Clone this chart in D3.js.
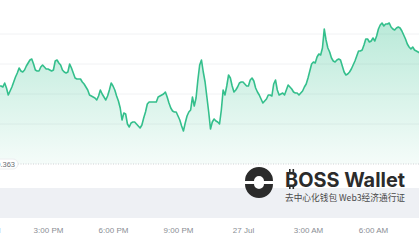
<!DOCTYPE html>
<html>
<head>
<meta charset="utf-8">
<script src="https://cdnjs.cloudflare.com/ajax/libs/d3/7.8.5/d3.min.js"></script>
<style>
    body { margin: 0; background: #ffffff; overflow: hidden; }
    svg { display: block; }
</style>
</head>
<body>
<script>
// PRICE SERIES, ONE VALUE EVERY 5 MINUTES FROM 26 JUL 12:45 PM
var startTime = new Date(2024, 6, 26, 12, 45);
var stepMinutes = 5;
var prices = [
    0.3708, 0.3708, 0.3707, 0.3711, 0.3706, 0.3699, 0.3703, 0.3707, 0.3712, 0.3717,
    0.3721, 0.3726, 0.3723, 0.3722, 0.3724, 0.3728, 0.3731, 0.3734, 0.3735, 0.3730,
    0.3724, 0.3723, 0.3723, 0.3727, 0.3729, 0.3727, 0.3725, 0.3725, 0.3724, 0.3723,
    0.3724, 0.3733, 0.3734, 0.3731, 0.3729, 0.3724, 0.3722, 0.3721, 0.3722, 0.3730,
    0.3726, 0.3721, 0.3716, 0.3715, 0.3715, 0.3715, 0.3712, 0.3710, 0.3707, 0.3704,
    0.3699, 0.3698, 0.3697, 0.3696, 0.3694, 0.3698, 0.3704, 0.3700, 0.3697, 0.3694,
    0.3698, 0.3704, 0.3711, 0.3708, 0.3704, 0.3698, 0.3693, 0.3686, 0.3674, 0.3681,
    0.3680, 0.3670, 0.3667, 0.3671, 0.3672, 0.3672, 0.3670, 0.3668, 0.3666, 0.3669,
    0.3676, 0.3682, 0.3690, 0.3692, 0.3692, 0.3692, 0.3692, 0.3692, 0.3697, 0.3698,
    0.3699, 0.3700, 0.3702, 0.3697, 0.3691, 0.3686, 0.3683, 0.3682, 0.3682, 0.3678,
    0.3674, 0.3668, 0.3663, 0.3671, 0.3678, 0.3682, 0.3684, 0.3697, 0.3688, 0.3696,
    0.3714, 0.3729, 0.3734, 0.3722, 0.3712, 0.3697, 0.3682, 0.3665, 0.3672, 0.3675,
    0.3673, 0.3672, 0.3670, 0.3684, 0.3704, 0.3699, 0.3708, 0.3719, 0.3716, 0.3708,
    0.3702, 0.3704, 0.3707, 0.3711, 0.3712, 0.3712, 0.3710, 0.3708, 0.3708, 0.3714,
    0.3716, 0.3713, 0.3706, 0.3702, 0.3699, 0.3695, 0.3691, 0.3693, 0.3695, 0.3699,
    0.3699, 0.3698, 0.3710, 0.3714, 0.3704, 0.3699, 0.3700, 0.3701, 0.3699, 0.3704,
    0.3709, 0.3707, 0.3705, 0.3702, 0.3701, 0.3701, 0.3699, 0.3701, 0.3703, 0.3707,
    0.3710, 0.3716, 0.3723, 0.3730, 0.3732, 0.3731, 0.3737, 0.3740, 0.3739, 0.3746,
    0.3765, 0.3754, 0.3746, 0.3742, 0.3736, 0.3733, 0.3732, 0.3734, 0.3735, 0.3734,
    0.3728, 0.3722, 0.3719, 0.3720, 0.3722, 0.3725, 0.3729, 0.3733, 0.3738, 0.3743,
    0.3743, 0.3744, 0.3749, 0.3755, 0.3755, 0.3752, 0.3753, 0.3756, 0.3753, 0.3758,
    0.3765, 0.3769, 0.3771, 0.3768, 0.3770, 0.3770, 0.3771, 0.3767, 0.3765, 0.3764,
    0.3766, 0.3767, 0.3766, 0.3763, 0.3759, 0.3755, 0.3750, 0.3747, 0.3745, 0.3747,
    0.3744, 0.3743, 0.3742, 0.3741
];

// X AXIS TICKS AND LABELS
var tickTimes = [
    new Date(2024, 6, 26, 12), new Date(2024, 6, 26, 15), new Date(2024, 6, 26, 18),
    new Date(2024, 6, 26, 21), new Date(2024, 6, 27, 0), new Date(2024, 6, 27, 3),
    new Date(2024, 6, 27, 6)
];
var tickLabels = ["12:00 PM", "3:00 PM", "6:00 PM", "9:00 PM", "27 Jul", "3:00 AM", "6:00 AM"];

// HORIZONTAL GRID VALUES AND REFERENCE PRICE
var gridValues = [0.367, 0.370, 0.373, 0.376];
var refPrice = 0.363;
var refLabel = "0.363";

var data = prices.map((p, i) => ({
    time: new Date(startTime.getTime() + i * stepMinutes * 60000),
    price: p
}));

var width = 419;
var height = 240;

var svg = d3.select("body")
    .append("svg")
    .attr("width", width)
    .attr("height", height);

// SCALES
var x = d3.scaleTime()
    .domain([new Date(2024, 6, 26, 15), new Date(2024, 6, 27, 6)])
    .range([48, 373]);

var y = d3.scaleLinear()
    .domain([0.363, 0.3762])
    .range([164, 32]);

// AREA GRADIENT
var defs = svg.append("defs");
var grad = defs.append("linearGradient")
    .attr("id", "areaFill")
    .attr("gradientUnits", "userSpaceOnUse")
    .attr("x1", 0).attr("x2", 0)
    .attr("y1", y(0.3771)).attr("y2", y(refPrice));
grad.append("stop").attr("offset", "0%").attr("stop-color", "#34c08e").attr("stop-opacity", 0.34);
grad.append("stop").attr("offset", "100%").attr("stop-color", "#34c08e").attr("stop-opacity", 0.05);

// GRID LINES
svg.append("g")
    .selectAll("line")
    .data(gridValues)
    .enter()
    .append("line")
    .attr("x1", 0)
    .attr("x2", width)
    .attr("y1", d => y(d))
    .attr("y2", d => y(d))
    .attr("stroke", "#f1f2f4")
    .attr("stroke-width", 1);

// AREA AND LINE
var area = d3.area()
    .x(d => x(d.time))
    .y0(y(refPrice))
    .y1(d => y(d.price));

var line = d3.line()
    .x(d => x(d.time))
    .y(d => y(d.price));

svg.append("path")
    .datum(data)
    .attr("d", area)
    .attr("fill", "url(#areaFill)");

svg.append("path")
    .datum(data)
    .attr("d", line)
    .attr("fill", "none")
    .attr("stroke", "#34bf8c")
    .attr("stroke-width", 1.6)
    .attr("stroke-linejoin", "round");

// REFERENCE DOTTED LINE WITH LABEL
svg.append("line")
    .attr("x1", 18)
    .attr("x2", width)
    .attr("y1", y(refPrice))
    .attr("y2", y(refPrice))
    .attr("stroke", "#cfd2d6")
    .attr("stroke-width", 1)
    .attr("stroke-dasharray", "1,1.5");

svg.append("rect")
    .attr("x", -12)
    .attr("y", y(refPrice) - 5)
    .attr("width", 30)
    .attr("height", 10)
    .attr("rx", 5)
    .attr("fill", "#ffffff")
    .attr("stroke", "#eceef0");

svg.append("text")
    .attr("x", 15)
    .attr("y", y(refPrice) + 2.8)
    .attr("text-anchor", "end")
    .attr("font-family", "Liberation Sans, Arial, sans-serif")
    .attr("font-size", 7.5)
    .attr("fill", "#6b6f75")
    .text(refLabel);

// LOWER BAND
svg.append("rect")
    .attr("x", 0)
    .attr("y", 188)
    .attr("width", width)
    .attr("height", 30)
    .attr("fill", "#eef0f4");

// X AXIS
var xAxis = d3.axisBottom(x)
    .tickValues(tickTimes)
    .tickFormat((d, i) => tickLabels[i])
    .tickSize(0);

var gx = svg.append("g")
    .attr("transform", "translate(0, 224)")
    .call(xAxis);
gx.select(".domain").remove();
gx.selectAll("text")
    .attr("font-family", "Liberation Sans, Arial, sans-serif")
    .attr("font-size", 8)
    .attr("fill", "#8a8e94");

// WATERMARK LOGO
var logo = svg.append("g")
    .attr("fill", "#2b2b2b");

var arcTop = d3.arc()
    .innerRadius(5)
    .outerRadius(14)
    .startAngle(-Math.PI / 2)
    .endAngle(Math.PI / 2);
var arcBottom = d3.arc()
    .innerRadius(5)
    .outerRadius(14)
    .startAngle(Math.PI / 2)
    .endAngle(Math.PI * 1.5);

logo.append("path")
    .attr("transform", "translate(259, 181)")
    .attr("d", arcTop);
logo.append("path")
    .attr("transform", "translate(259, 184)")
    .attr("d", arcBottom);

logo.append("text")
    .attr("x", 285)
    .attr("y", 187)
    .attr("font-family", "Inter, Roboto, sans-serif")
    .attr("font-weight", 700)
    .attr("font-size", 20)
    .attr("textLength", 120)
    .attr("lengthAdjust", "spacingAndGlyphs")
    .text("BOSS Wallet");

// BITCOIN STROKES ON THE B
logo.append("rect").attr("x", 289).attr("y", 169).attr("width", 1.6).attr("height", 3);
logo.append("rect").attr("x", 292.5).attr("y", 169).attr("width", 1.6).attr("height", 3);
logo.append("rect").attr("x", 289).attr("y", 186).attr("width", 1.6).attr("height", 3);
logo.append("rect").attr("x", 292.5).attr("y", 186).attr("width", 1.6).attr("height", 3);

logo.append("text")
    .attr("x", 285)
    .attr("y", 201)
    .attr("font-family", "Noto Sans CJK SC, sans-serif")
    .attr("font-size", 9)
    .attr("fill", "#4a4a4a")
    .attr("textLength", 120)
    .attr("lengthAdjust", "spacingAndGlyphs")
    .text("去中心化钱包 Web3经济通行证");
</script>
</body>
</html>
